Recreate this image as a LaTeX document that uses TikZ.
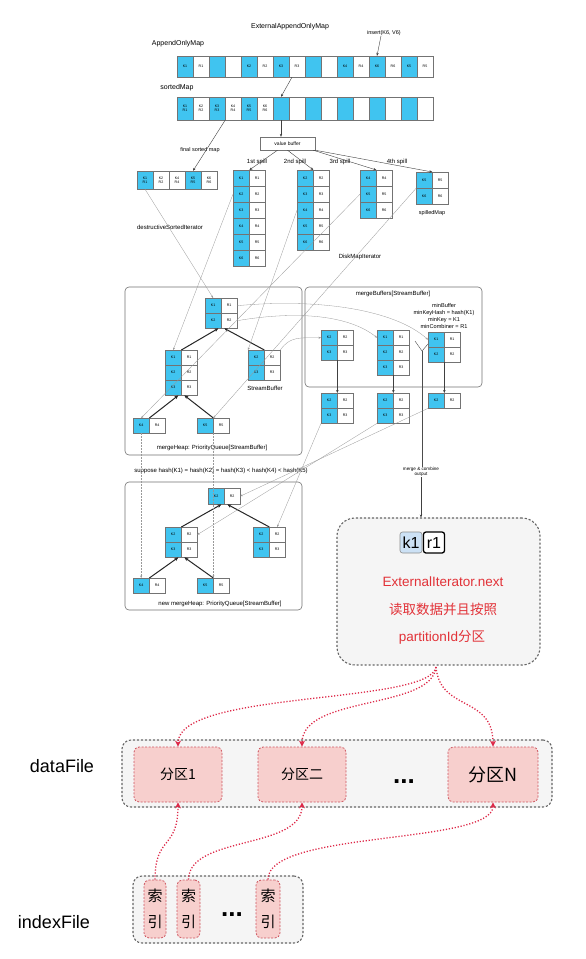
\documentclass[tikz,border=0pt]{standalone}
\usepackage{fontspec}
\setmainfont{Liberation Sans}
\newfontfamily\cjk{Noto Sans CJK SC}
\usetikzlibrary{arrows.meta}
\definecolor{cellblue}{RGB}{64,196,240}
\definecolor{rd}{RGB}{222,40,72}
\definecolor{txtred}{RGB}{226,50,56}
\definecolor{boxfill}{RGB}{245,245,245}
\definecolor{pinkf}{RGB}{247,207,205}
\definecolor{pinkedge}{RGB}{205,85,95}
\definecolor{kblue}{RGB}{204,225,245}
\tikzset{
 cellbase/.style={draw=black!55, line width=0.35pt, inner sep=0pt, minimum width=16pt, font=\fontsize{3.6}{4.2}\selectfont, align=center},
 kc/.style={cellbase, fill=cellblue},
 rc/.style={cellbase, fill=white},
 lab/.style={font=\fontsize{6}{7}\selectfont, inner sep=0pt, align=center},
 biglab/.style={font=\fontsize{7}{8}\selectfont, inner sep=0pt},
 itline/.style={draw=black!40, line width=0.3pt, -{Stealth[length=2.5pt,width=2pt]}},
 parr/.style={draw=black!75, line width=0.4pt, -{Stealth[length=3pt,width=2.4pt]}},
 heaparr/.style={draw=black!85, line width=1pt, -{Stealth[length=4pt,width=3.5pt]}},
 grpbox/.style={draw=black!55, line width=0.6pt, rounded corners=4pt},
 redcurve/.style={draw=rd, line width=1.3pt, dash pattern=on 1.2pt off 1.8pt, -{Stealth[length=6pt,width=6pt]}},
 part/.style={fill=pinkf, draw=pinkedge, line width=0.8pt, dash pattern=on 2pt off 1.5pt, rounded corners=5pt, inner sep=0pt},
 outerbox/.style={fill=boxfill, draw=black!60, line width=1.1pt, dash pattern=on 2.2pt off 1.8pt, rounded corners=9pt},
 dots/.style={font=\bfseries\fontsize{26}{26}\selectfont, inner sep=0pt},
}
\newcommand\sbuf[5]{\foreach \kk [count=\ii] in {#5} {%
 \node[kc,minimum height=#4pt,anchor=north west] (#1-k\ii) at (#2,{#3+#4*(\ii-1)}) {K\kk};
 \node[rc,minimum height=#4pt,anchor=north west] (#1-r\ii) at ({#2+16},{#3+#4*(\ii-1)}) {R\kk};}}
\begin{document}
\begin{tikzpicture}[x=1pt,y=-1pt]
\fill[white] (0,0) rectangle (586,959);
\useasboundingbox (0,0) rectangle (586,959);

% ---------- top maps
\node[biglab] (tExt) at (290,27) {ExternalAppendOnlyMap};
\node[biglab] (tAom) at (178,44) {AppendOnlyMap};
\node[biglab] (tSm) at (177,88) {sortedMap};
\foreach \lab [count=\i from 0] in {K1,R1,{},{},K2,R2,K3,R3,{},{},K4,R4,K6,R6,K5,R5}{
  \ifodd\i\relax\def\fc{white}\else\def\fc{cellblue}\fi
  \node[cellbase, fill=\fc, minimum height=21pt] (am\i) at ({185+16*\i},66.5) {\lab};}
\foreach \lab [count=\i from 0] in {{K1\\R1},{K2\\R2},{K3\\R3},{K4\\R4},{K5\\R5},{K6\\R6},{},{},{},{},{},{},{},{},{},{}}{
  \ifodd\i\relax\def\fc{white}\else\def\fc{cellblue}\fi
  \node[cellbase, fill=\fc, minimum height=23pt] (sm\i) at ({185+16*\i},108.5) {\lab};}
\node[lab, font=\fontsize{5.5}{6}\selectfont] (ins) at (384,33) {insert(K6, V6)};
\draw[parr] ([xshift=-3pt]ins.south) -- (am12.north);
\draw[parr] ([xshift=-5pt]am7.south) -- (sm6.north);

% ---------- final sorted map & value buffer
\node[lab, font=\fontsize{5.5}{6}\selectfont] (tFsm) at (200,150) {final sorted map};
\foreach \lab [count=\i from 0] in {{K1\\R1},{K2\\R2},{K4\\R4},{K5\\R5},{K6\\R6}}{
  \ifnum\i=0\def\fc{cellblue}\else\ifnum\i=3\def\fc{cellblue}\else\def\fc{white}\fi\fi
  \node[cellbase, fill=\fc, minimum height=18pt] (fs\i) at ({145+16*\i},180) {\lab};}
\draw[parr] (sm2.south east) -- (fs3.north);
\node[draw=black!55, line width=0.4pt, minimum width=55pt, minimum height=13pt, inner sep=0pt, font=\fontsize{5}{6}\selectfont, fill=white] (vb) at (287.5,143.5) {value buffer};
\draw[parr] (sm6.south) -- (sm6.south |- vb.north);

% ---------- spills
\sbuf{sp1}{233}{170}{16}{1,2,3,4,5,6}
\sbuf{sp2}{297}{170}{16}{2,3,4,5,6}
\sbuf{sp3}{360}{170}{16}{4,5,6}
\sbuf{sp4}{416}{172}{16}{5,6}
\node[lab] (l1) at (257,162) {1st spill};
\node[lab] (l2) at (295,162) {2nd spill};
\node[lab] (l3) at (340,162) {3rd spill};
\node[lab] (l4) at (397,162) {4th spill};
\draw[parr] ([xshift=-10pt]vb.south) -- (sp1-k1.north east);
\draw[parr] (vb.south) -- (sp2-k1.north east);
\draw[parr] ([xshift=-2pt]vb.south east) -- (sp3-k1.north east);
\draw[parr] (vb.south east) -- (sp4-k1.north east);
\node[lab, font=\fontsize{5.5}{6}\selectfont] (tSpm) at (432,213) {spilledMap};
\node[lab] (tDsi) at (170,227) {destructiveSortedIterator};
\node[lab] (tDmi) at (360,257) {DiskMapIterator};

% ---------- merge heap
\draw[grpbox] (125,287) rectangle (302,455);
\sbuf{h1top}{205}{298}{15}{1,2}
\sbuf{h1L}{165}{350}{15}{1,2,3}
\sbuf{h1R}{248}{350}{15}{2,3}
\sbuf{h1a}{133}{418}{15}{4}
\sbuf{h1b}{197}{418}{15}{5}
\node[lab] (tSb) at (265,388) {StreamBuffer};
\node[lab] (tMh) at (212,448) {mergeHeap: PriorityQueue[StreamBuffer]};
\draw[heaparr] (h1L-k1.north east) -- ([xshift=-3pt]h1top-k2.south east);
\draw[heaparr] (h1R-k1.north east) -- ([xshift=3pt]h1top-k2.south east);
\draw[heaparr] (h1a-k1.north east) -- ([xshift=-3pt]h1L-k3.south east);
\draw[heaparr] (h1b-k1.north east) -- ([xshift=3pt]h1L-k3.south east);

% ---------- merge buffers
\draw[grpbox] (305,287) rectangle (482,387);
\node[lab] (tMb) at (393,294) {mergeBuffers[StreamBuffer]};
\node[lab, font=\fontsize{5.6}{7}\selectfont] (tMin) at (444,316) {minBuffer\\minKeyHash = hash(K1)\\minKey = K1\\minCombiner = R1};
\sbuf{A}{321}{330}{15}{2,3}
\sbuf{B}{377}{330}{15}{1,2,3}
\sbuf{C}{428}{332}{15}{1,2}
\sbuf{D}{321}{393}{15}{2,3}
\sbuf{E}{377}{393}{15}{2,3}
\sbuf{F}{428}{393}{15}{2}
\draw[parr] (A-k2.south east) -- (D-k1.north east);
\draw[parr] (B-k3.south east) -- (E-k1.north east);
\draw[parr] (C-k2.south east) -- (F-k1.north east);

% iterator lines
\draw[itline] (fs0.south) -- (h1top-k1.north);
\draw[itline] (sp1-k2.west) -- (h1L-k1.north);
\draw[itline] (sp2-k3.west) -- (h1R-k1.north west);
\draw[itline] (sp3-k2.west) -- (h1a-k1.north);
\draw[itline] (sp4-k1.south west) -- (h1b-k1.north east);
\draw[itline] (h1top-r1.east) .. controls (320,298) and (395,310) .. (C-k1.west);
\draw[itline] (h1top-r2.east) .. controls (300,310) and (350,316) .. (B-k1.west);
\draw[itline] (h1R-r1.north east) .. controls (290,336) and (300,338) .. (A-k1.west);

% merge & combine output
\coordinate (vtx) at (422,351);
\draw[black!70, line width=0.4pt] (415,341) -- (vtx) -- (428,344);
\node[lab, font=\fontsize{4.6}{5.4}\selectfont] (mco) at (421,472) {merge \& combine\\output};
\draw[black!70, line width=0.4pt] (vtx) -- (vtx |- mco.north);

% ---------- second heap
\node[lab] (tSup) at (221,471) {suppose hash(K1) = hash(K2) = hash(K3) < hash(K4) < hash(K5)};
\draw[grpbox] (125,482) rectangle (302,610);
\sbuf{h2top}{208}{488}{16}{2}
\sbuf{h2L}{165}{527}{15}{2,3}
\sbuf{h2R}{253}{527}{15}{2,3}
\sbuf{h2a}{133}{578}{15}{4}
\sbuf{h2b}{197}{578}{15}{5}
\node[lab] (tNmh) at (220,604) {new mergeHeap: PriorityQueue[StreamBuffer]};
\draw[heaparr] (h2L-k1.north east) -- ([xshift=-3pt]h2top-k1.south east);
\draw[heaparr] (h2R-k1.north east) -- ([xshift=3pt]h2top-k1.south east);
\draw[heaparr] (h2a-k1.north east) -- ([xshift=-3pt]h2L-k2.south east);
\draw[heaparr] (h2b-k1.north east) -- ([xshift=3pt]h2L-k2.south east);
\draw[itline] (F-k1.south west) -- (h2top-r1.east);
\draw[itline] (E-k2.south west) -- (h2L-r1.east);
\draw[itline] (D-k2.south west) -- (h2R-r1.north);
\draw[itline, dash pattern=on 1.5pt off 1.5pt] (h1a-k1.south) -- (h2a-k1.north);
\draw[itline, dash pattern=on 1.5pt off 1.5pt] (h1b-k1.south east) -- (h2b-k1.north east);

% ---------- output box
\node[outerbox, rounded corners=18pt, minimum width=203pt, minimum height=147pt] (big) at (438.5,591.5) {};
\draw[parr] (mco.south) -- (mco.south |- big.north);
\node[fill=kblue, draw=black!45, line width=0.6pt, rounded corners=2.5pt, minimum width=22pt, minimum height=21pt, inner sep=0pt, font=\fontsize{16}{16}\selectfont] (k1) at (411,542.5) {k1};
\node[fill=white, draw=black, line width=1.3pt, rounded corners=2.5pt, minimum width=21pt, minimum height=21pt, inner sep=0pt, font=\fontsize{16}{16}\selectfont] (r1) at (434,542.5) {r1};
\node[text=txtred, font=\fontsize{13.5}{16}\selectfont, inner sep=0pt] (t1) at (443,582) {ExternalIterator.next};
\node[text=txtred, font=\cjk\fontsize{13.5}{16}\selectfont, inner sep=0pt] (t2) at (443,609) {读取数据并且按照};
\node[text=txtred, font=\fontsize{13.5}{16}\selectfont, inner sep=0pt] (t3) at (442,637) {partitionId{\cjk 分区}};

% ---------- data file
\node[font=\fontsize{18}{20}\selectfont, inner sep=0pt] (dfl) at (62,766) {dataFile};
\node[outerbox, minimum width=430pt, minimum height=67pt] (dbox) at (337,773.5) {};
\node[part, minimum width=88pt, minimum height=55pt, font=\cjk\fontsize{14}{16}\selectfont] (p1) at (178,774.5) {分区1};
\node[part, minimum width=88pt, minimum height=55pt, font=\cjk\fontsize{14}{16}\selectfont] (p2) at (302,774.5) {分区二};
\node[part, minimum width=90pt, minimum height=55pt, font=\cjk\fontsize{18}{20}\selectfont] (pN) at (493,774.5) {分区N};
\node[dots] (dd1) at (404,782) {...};
\coordinate (orig) at (436,667);
\draw[redcurve] (orig) .. controls (430,705) and (178,690) .. (p1.north);
\draw[redcurve] (orig) .. controls (432,710) and (302,695) .. (p2.north);
\draw[redcurve] (orig) .. controls (440,712) and (493,695) .. (pN.north);

% ---------- index file
\node[font=\fontsize{18}{20}\selectfont, inner sep=0pt] (ifl) at (54,922) {indexFile};
\node[outerbox, minimum width=170pt, minimum height=67pt] (ibox) at (218,909.5) {};
\node[part, minimum width=22pt, minimum height=58pt, font=\cjk\fontsize{15}{26}\selectfont, align=center] (ic1) at (155,909) {索\\引};
\node[part, minimum width=23pt, minimum height=58pt, font=\cjk\fontsize{15}{26}\selectfont, align=center] (ic2) at (188.5,909) {索\\引};
\node[part, minimum width=24pt, minimum height=58pt, font=\cjk\fontsize{15}{26}\selectfont, align=center] (ic3) at (268,909) {索\\引};
\node[dots] (dd2) at (232,915) {...};
\draw[redcurve] (ic1.north) .. controls (155,835) and (178,850) .. (p1.south);
\draw[redcurve] (ic2.north) .. controls (189,835) and (302,850) .. (p2.south);
\draw[redcurve] (ic3.north) .. controls (267,830) and (493,845) .. (pN.south);
\end{tikzpicture}
\end{document}
